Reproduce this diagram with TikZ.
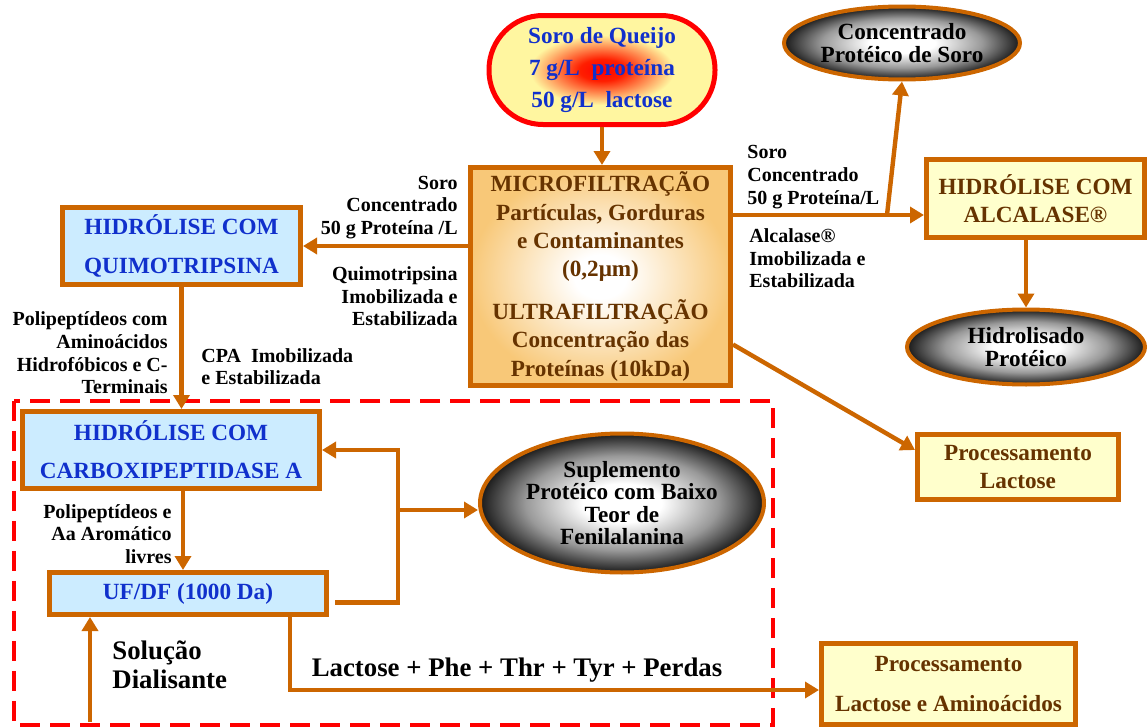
\documentclass[tikz,border=0pt]{standalone}
\usepackage{fontspec}
\setmainfont{Liberation Serif}
\usetikzlibrary{arrows.meta,shapes.geometric}

\definecolor{brd}{RGB}{204,102,0}
\definecolor{brn}{RGB}{102,51,0}
\definecolor{qblue}{RGB}{16,48,204}
\definecolor{pblue}{RGB}{204,236,255}
\definecolor{pyel}{RGB}{255,255,204}
\definecolor{mfor}{RGB}{248,200,120}
\definecolor{lemon}{RGB}{255,246,160}

\pgfdeclareradialshading{ballshade}{\pgfpoint{0bp}{0bp}}{color(0bp)=(white); color(7bp)=(white); color(17bp)=(black!40); color(25bp)=(black!90); color(50bp)=(black!90)}
\pgfdeclareradialshading{queijoshade}{\pgfpoint{0bp}{0bp}}{color(0bp)=(red); color(5bp)=(red!88!yellow); color(16bp)=(lemon); color(50bp)=(lemon)}
\pgfdeclareradialshading{mfshade}{\pgfpoint{0bp}{0bp}}{color(0bp)=(white); color(5bp)=(white); color(25bp)=(mfor); color(50bp)=(mfor)}

\newcommand\fbig{\fontsize{11.6pt}{14.2pt}\selectfont\bfseries}
\newcommand\fball{\fontsize{11.6pt}{11.2pt}\selectfont\bfseries}
\newcommand\fsmall{\fontsize{10pt}{11.3pt}\selectfont\bfseries}
\newcommand\flarge{\fontsize{13.4pt}{14.6pt}\selectfont\bfseries}

\begin{document}
\begin{tikzpicture}[x=0.5pt,y=-0.5pt,
    box/.style={draw=brd,line width=2.5pt,inner sep=0pt,align=center,font=\fbig},
    bluebox/.style={box,fill=pblue,text=qblue},
    yelbox/.style={box,fill=pyel,text=brn},
    ballnode/.style={ellipse,draw=brd,line width=2pt,shade,shading=ballshade,inner sep=0pt,align=center,font=\fball},
    lbl/.style={inner sep=0pt,font=\fsmall},
    arr/.style={draw=brd,line width=2.2pt,-{Triangle[length=7pt,width=8pt]}}]

    \useasboundingbox (0,0) rectangle (1148,728);

    % dashed frame round the CPA stage
    \draw[red,line width=2pt,dash pattern=on 10pt off 5pt] (14,401) rectangle (773,725);

    % feed and filtration
    \node[box,draw=red,rounded corners=27pt,shade,shading=queijoshade,text=qblue,
          minimum width=113pt,minimum height=54.5pt] (queijo) at (602,70)
        {Soro de Queijo\\[2pt]7 g/L~ proteína\\[2pt]50 g/L~ lactose};
    \node[box,shade,shading=mfshade,text=brn,minimum width=130pt,minimum height=109pt] (mf) at (600.5,276.5)
        {MICROFILTRAÇÃO\\Partículas, Gorduras\\e Contaminantes\\(0,2μm)\\[7pt]ULTRAFILTRAÇÃO\\Concentração das\\Proteínas (10kDa)};

    % hydrolysis boxes
    \node[bluebox,minimum width=119pt,minimum height=38.5pt] (quimo) at (181.5,246)
        {HIDRÓLISE COM\\[5.3pt]QUIMOTRIPSINA};
    \node[bluebox,minimum width=148.5pt,minimum height=38.5pt] (cpa) at (171,450)
        {HIDRÓLISE COM\\[4.8pt]CARBOXIPEPTIDASE A};
    \node[bluebox,minimum width=138.5pt,minimum height=21pt] (uf) at (188,593.5) {UF/DF (1000 Da)};
    \node[yelbox,minimum width=109pt,minimum height=39pt] (alc) at (1035.5,198.5)
        {HIDRÓLISE COM\\ALCALASE®};
    \node[yelbox,minimum width=100.5pt,minimum height=32.5pt] (plac) at (1018,467)
        {Processamento\\Lactose};
    \node[yelbox,minimum width=127pt,minimum height=40.5pt] (plaa) at (948.5,684)
        {Processamento\\[5.8pt]Lactose e Aminoácidos};

    % products
    \node[ballnode,minimum width=118pt,minimum height=36.5pt] (conc) at (902,43)
        {Concentrado\\Protéico de Soro};
    \node[ballnode,minimum width=119pt,minimum height=37.5pt] (hidro) at (1026,347)
        {Hidrolisado\\Protéico};
    \node[ballnode,minimum width=142pt,minimum height=69.5pt] (supl) at (622,503)
        {Suplemento\\Protéico com Baixo\\Teor de\\Fenilalanina};

    % labels
    \node[lbl,align=right,anchor=east] (lsoroq) at (458,207.5) {Soro\\Concentrado\\50 g Proteína /L};
    \node[lbl,align=right,anchor=east] (lquimo) at (458,296.5) {Quimotripsina\\Imobilizada e\\Estabilizada};
    \node[lbl,align=right,anchor=east] (lpoli) at (168,353) {Polipeptídeos com\\Aminoácidos\\Hidrofóbicos e C-\\Terminais};
    \node[lbl,align=left,anchor=west] (lcpa) at (201,366.5) {CPA~ Imobilizada\\e Estabilizada};
    \node[lbl,align=right,anchor=east] (laro) at (172,534) {Polipeptídeos e\\Aa Aromático\\livres};
    \node[lbl,align=left,anchor=west] (lsoroa) at (747,177) {Soro\\Concentrado\\50 g Proteína/L};
    \node[lbl,align=left,anchor=west] (lalc) at (749,258.5) {Alcalase®\\Imobilizada e\\Estabilizada};
    \node[inner sep=0pt,align=left,anchor=west,font=\flarge] (lsol) at (112,664.5) {Solução\\Dialisante};
    \node[inner sep=0pt,font=\flarge] (llac) at (517,670) {Lactose + Phe + Thr + Tyr + Perdas};

    % junctions
    \coordinate (jl) at (398,510);
    \coordinate (jr) at (887,215);
    \coordinate (sol) at (90,722);

    % connectors
    \draw[arr] (queijo.south) -- (queijo.south |- mf.north);
    \draw[arr] (mf.west |- quimo.east) -- (quimo.east);
    \draw[arr] (quimo.south) -- (quimo.south |- cpa.north);
    \draw[arr] ([xshift=6pt]cpa.south) -- ([xshift=6pt]cpa.south |- uf.north);
    \draw[arr] ([xshift=3pt,yshift=-4.5pt]uf.east) -| (jl) |- (cpa.east);
    \draw[arr] (jl) -- (jl -| supl.west);
    \draw[arr] (sol) -- (sol |- uf.south);
    \draw[arr] ([xshift=51pt]uf.south) |- ([yshift=-3pt]plaa.west);
    \draw[arr] (mf.east |- jr) -- (jr -| alc.west);
    \draw[arr] (jr) -- (conc.south);
    \draw[arr] (hidro.north |- alc.south) -- (hidro.north);
    \draw[arr] ([yshift=-34pt]mf.east) -- ([yshift=8.5pt]plac.west);

\end{tikzpicture}
\end{document}
